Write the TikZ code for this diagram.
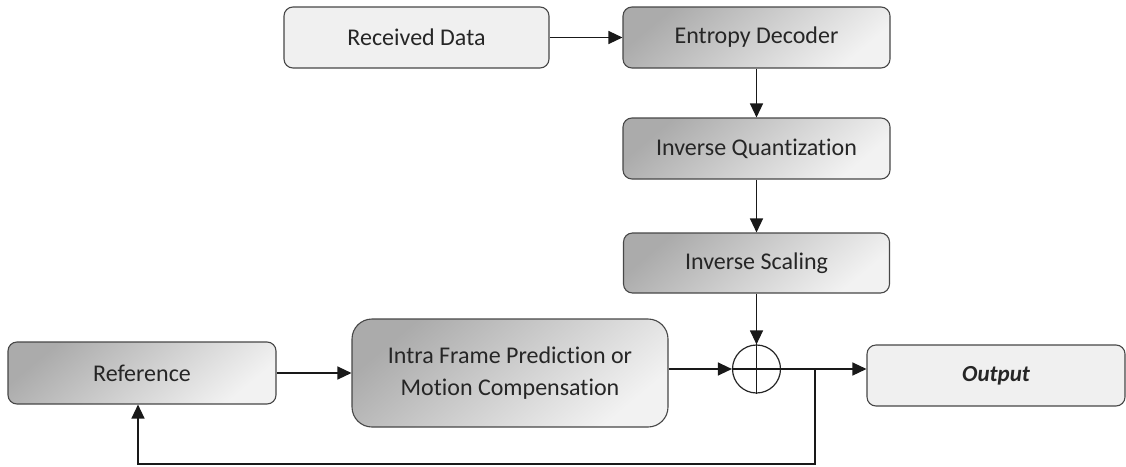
\documentclass[tikz,border=0pt]{standalone}
\usepackage{fontspec}
\setmainfont{Carlito}[Ligatures=NoCommon]
\usetikzlibrary{arrows.meta,calc}
\begin{document}
\begin{tikzpicture}[x=1pt,y=-1pt,
  box/.style={draw=black!72, line width=1.1pt, rounded corners=9pt, inner sep=0pt,
    align=center, font=\fontsize{24}{32}\selectfont, text=black!85},
  lightbox/.style={box, fill=black!6},
  shadedbox/.style={box, top color=black!33, bottom color=black!5, shading angle=40},
  arr/.style={-{Triangle[length=14pt,width=13pt]}, line width=1.3pt, draw=black!90},
  ln/.style={line width=1.3pt, draw=black!90},
]
\useasboundingbox (0,0) rectangle (1126,466);

\node[lightbox, minimum width=265pt, minimum height=61pt] (rd) at (416.5,37.5) {Received Data};
\node[shadedbox, minimum width=267pt, minimum height=61pt] (ed) at (756.5,37.5) {Entropy Decoder};
\node[shadedbox, minimum width=267pt, minimum height=61pt] (iq) at (756.5,148.5) {Inverse Quantization};
\node[shadedbox, minimum width=266pt, minimum height=60pt] (is) at (756.5,263) {Inverse Scaling};
\node[draw=black!85, line width=1.2pt, circle, minimum size=48pt, inner sep=0pt] (sum) at (756.5,369) {};
\node[shadedbox, rounded corners=20pt, minimum width=316pt, minimum height=108pt] (intra) at (510,373) {Intra Frame Prediction or\\Motion Compensation};
\node[shadedbox, minimum width=268pt, minimum height=62pt] (ref) at (142,373) {Reference};
\node[lightbox, minimum width=258pt, minimum height=61pt, font=\fontsize{23}{28}\selectfont\bfseries\itshape] (out) at (996,375.5) {Output};

\draw[ln] (sum.north) -- (sum.south);
\draw[ln] (sum.west) -- (sum.east);

\draw[arr] (rd) -- (ed);
\draw[arr] (ed) -- (iq);
\draw[arr] (iq) -- (is);
\draw[arr] (is) -- (sum);
\draw[arr] (ref.east) -- (ref.east -| intra.west);
\draw[arr] (intra.east |- sum) -- (sum.west);
\draw[arr] (sum.east) -- (sum -| out.west);

\coordinate (br) at (815,369);
\coordinate (fb) at (138,464);
\draw[arr] (br) |- (fb) -- (fb |- ref.south);
\end{tikzpicture}
\end{document}
